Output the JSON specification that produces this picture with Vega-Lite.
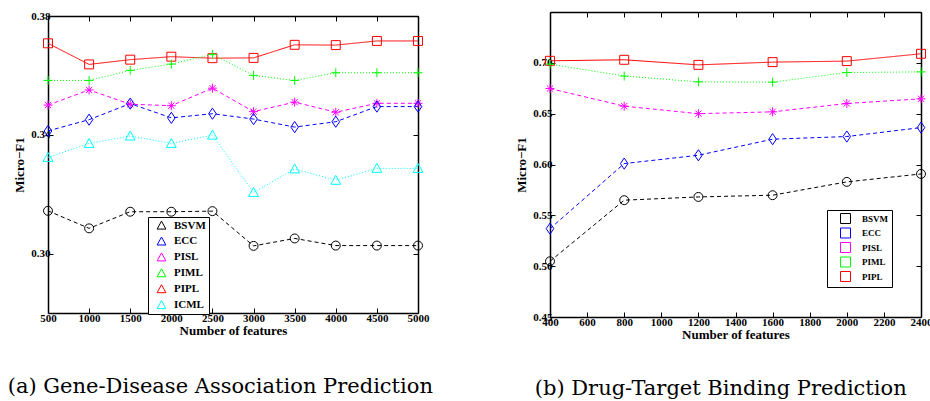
{
  "$schema": "https://vega.github.io/schema/vega-lite/v6.json",
  "padding": {"left": 7, "top": 10, "right": 0, "bottom": 0},
  "background": "white",
  "spacing": 132,
  "bounds": "flush",
  "center": true,
  "datasets": {
    "gene": [
      {"method": "PIPL", "n": 500, "f1": 0.3708}, {"method": "PIPL", "n": 1000, "f1": 0.3637}, {"method": "PIPL", "n": 1500, "f1": 0.3653}, {"method": "PIPL", "n": 2000, "f1": 0.3663}, {"method": "PIPL", "n": 2500, "f1": 0.3658}, {"method": "PIPL", "n": 3000, "f1": 0.3659}, {"method": "PIPL", "n": 3500, "f1": 0.3703}, {"method": "PIPL", "n": 4000, "f1": 0.3702}, {"method": "PIPL", "n": 4500, "f1": 0.3716}, {"method": "PIPL", "n": 5000, "f1": 0.3716},
      {"method": "PIML", "n": 500, "f1": 0.3583}, {"method": "PIML", "n": 1000, "f1": 0.3583}, {"method": "PIML", "n": 1500, "f1": 0.3617}, {"method": "PIML", "n": 2000, "f1": 0.3638}, {"method": "PIML", "n": 2500, "f1": 0.3671}, {"method": "PIML", "n": 3000, "f1": 0.3600}, {"method": "PIML", "n": 3500, "f1": 0.3583}, {"method": "PIML", "n": 4000, "f1": 0.3609}, {"method": "PIML", "n": 4500, "f1": 0.3609}, {"method": "PIML", "n": 5000, "f1": 0.3609},
      {"method": "PISL", "n": 500, "f1": 0.3500}, {"method": "PISL", "n": 1000, "f1": 0.3551}, {"method": "PISL", "n": 1500, "f1": 0.3503}, {"method": "PISL", "n": 2000, "f1": 0.3498}, {"method": "PISL", "n": 2500, "f1": 0.3557}, {"method": "PISL", "n": 3000, "f1": 0.3478}, {"method": "PISL", "n": 3500, "f1": 0.3510}, {"method": "PISL", "n": 4000, "f1": 0.3476}, {"method": "PISL", "n": 4500, "f1": 0.3506}, {"method": "PISL", "n": 5000, "f1": 0.3506},
      {"method": "ECC", "n": 500, "f1": 0.3413}, {"method": "ECC", "n": 1000, "f1": 0.3451}, {"method": "ECC", "n": 1500, "f1": 0.3505}, {"method": "ECC", "n": 2000, "f1": 0.3457}, {"method": "ECC", "n": 2500, "f1": 0.3471}, {"method": "ECC", "n": 3000, "f1": 0.3453}, {"method": "ECC", "n": 3500, "f1": 0.3426}, {"method": "ECC", "n": 4000, "f1": 0.3444}, {"method": "ECC", "n": 4500, "f1": 0.3495}, {"method": "ECC", "n": 5000, "f1": 0.3495},
      {"method": "ICML", "n": 500, "f1": 0.3324}, {"method": "ICML", "n": 1000, "f1": 0.3371}, {"method": "ICML", "n": 1500, "f1": 0.3396}, {"method": "ICML", "n": 2000, "f1": 0.3371}, {"method": "ICML", "n": 2500, "f1": 0.3399}, {"method": "ICML", "n": 3000, "f1": 0.3206}, {"method": "ICML", "n": 3500, "f1": 0.3285}, {"method": "ICML", "n": 4000, "f1": 0.3247}, {"method": "ICML", "n": 4500, "f1": 0.3287}, {"method": "ICML", "n": 5000, "f1": 0.3287},
      {"method": "BSVM", "n": 500, "f1": 0.3144}, {"method": "BSVM", "n": 1000, "f1": 0.3085}, {"method": "BSVM", "n": 1500, "f1": 0.3141}, {"method": "BSVM", "n": 2000, "f1": 0.3141}, {"method": "BSVM", "n": 2500, "f1": 0.3143}, {"method": "BSVM", "n": 3000, "f1": 0.3026}, {"method": "BSVM", "n": 3500, "f1": 0.3051}, {"method": "BSVM", "n": 4000, "f1": 0.3027}, {"method": "BSVM", "n": 4500, "f1": 0.3027}, {"method": "BSVM", "n": 5000, "f1": 0.3027}
    ],
    "drug": [
      {"method": "PIPL", "n": 400, "f1": 0.702}, {"method": "PIPL", "n": 800, "f1": 0.703}, {"method": "PIPL", "n": 1200, "f1": 0.698}, {"method": "PIPL", "n": 1600, "f1": 0.7007}, {"method": "PIPL", "n": 2000, "f1": 0.7017}, {"method": "PIPL", "n": 2400, "f1": 0.7089},
      {"method": "PIML", "n": 400, "f1": 0.6987}, {"method": "PIML", "n": 800, "f1": 0.687}, {"method": "PIML", "n": 1200, "f1": 0.6813}, {"method": "PIML", "n": 1600, "f1": 0.681}, {"method": "PIML", "n": 2000, "f1": 0.6905}, {"method": "PIML", "n": 2400, "f1": 0.6911},
      {"method": "PISL", "n": 400, "f1": 0.6747}, {"method": "PISL", "n": 800, "f1": 0.6574}, {"method": "PISL", "n": 1200, "f1": 0.650}, {"method": "PISL", "n": 1600, "f1": 0.6518}, {"method": "PISL", "n": 2000, "f1": 0.660}, {"method": "PISL", "n": 2400, "f1": 0.6646},
      {"method": "ECC", "n": 400, "f1": 0.5369}, {"method": "ECC", "n": 800, "f1": 0.6009}, {"method": "ECC", "n": 1200, "f1": 0.6091}, {"method": "ECC", "n": 1600, "f1": 0.6249}, {"method": "ECC", "n": 2000, "f1": 0.6275}, {"method": "ECC", "n": 2400, "f1": 0.6363},
      {"method": "BSVM", "n": 400, "f1": 0.5048}, {"method": "BSVM", "n": 800, "f1": 0.5649}, {"method": "BSVM", "n": 1200, "f1": 0.5681}, {"method": "BSVM", "n": 1600, "f1": 0.5698}, {"method": "BSVM", "n": 2000, "f1": 0.5829}, {"method": "BSVM", "n": 2400, "f1": 0.5907}
    ]
  },
  "config": {
    "view": {"stroke": null},
    "axis": {
      "labelFont": "Liberation Serif", "labelFontWeight": "bold", "labelFontSize": 11, "labelColor": "#000",
      "titleFont": "Liberation Serif", "titleFontWeight": "bold", "titleFontSize": 13, "titleColor": "#000",
      "domainColor": "#000", "domainWidth": 1.5, "tickColor": "#000", "tickSize": -5, "tickWidth": 1,
      "grid": false, "labelFlush": false, "labelOverlap": false, "labelPadding": 4
    },
    "legend": {"labelFont": "Liberation Serif", "labelFontWeight": "bold", "labelColor": "#000"}
  },
  "resolve": {
    "scale": {"color": "independent"},
    "legend": {"color": "independent"}
  },
  "hconcat": [
    {
      "width": 370, "height": 297,
      "title": {"text": "(a) Gene-Disease Association Prediction", "orient": "bottom", "anchor": "start", "frame": "bounds", "font": "DejaVu Serif", "fontSize": 21, "fontWeight": "normal", "color": "#000", "baseline": "alphabetic", "offset": 56, "dx": -6},
      "data": {"name": "gene"},
      "resolve": {"axis": {"x": "independent", "y": "independent"}},
      "layer": [
        {
          "mark": {"type": "line", "strokeWidth": 1},
          "encoding": {
            "x": {"field": "n", "type": "quantitative", "scale": {"domain": [500, 5000], "nice": false}, "axis": {"orient": "bottom", "values": [500, 1000, 1500, 2000, 2500, 3000, 3500, 4000, 4500, 5000], "format": "d", "title": "Number of features", "titlePadding": 1}},
            "y": {"field": "f1", "type": "quantitative", "scale": {"domain": [0.28, 0.38], "nice": false, "zero": false}, "axis": {"orient": "left", "values": [0.30, 0.34, 0.38], "format": ".2f", "title": "Micro−F1", "labelPadding": 3, "titlePadding": 4}},
            "detail": {"field": "method", "type": "nominal"},
            "color": {"condition": [{"test": "datum.method==='BSVM'", "value": "#000000"}, {"test": "datum.method==='ECC'", "value": "#0000ff"}, {"test": "datum.method==='PISL'", "value": "#ff00ff"}, {"test": "datum.method==='PIML'", "value": "#00ff00"}, {"test": "datum.method==='PIPL'", "value": "#ff0000"}], "value": "#00ffff"},
            "strokeDash": {"condition": [{"test": "datum.method==='BSVM' || datum.method==='ECC' || datum.method==='PISL'", "value": [4, 3]}, {"test": "datum.method==='PIPL'", "value": [1, 0]}], "value": [1, 2]}
          }
        },
        {
          "mark": {"type": "point", "filled": false, "size": 80, "strokeWidth": 1, "opacity": 1},
          "encoding": {
            "x": {"field": "n", "type": "quantitative", "scale": {"domain": [500, 5000], "nice": false}, "axis": {"orient": "top", "values": [500, 1000, 1500, 2000, 2500, 3000, 3500, 4000, 4500, 5000], "labels": false, "title": null}},
            "y": {"field": "f1", "type": "quantitative", "scale": {"domain": [0.28, 0.38], "nice": false, "zero": false}, "axis": {"orient": "right", "values": [0.30, 0.34, 0.38], "labels": false, "title": null}},
            "shape": {"condition": [{"test": "datum.method==='BSVM'", "value": "circle"}, {"test": "datum.method==='ECC'", "value": "M0,-1.25L0.85,0L0,1.25L-0.85,0Z"}, {"test": "datum.method==='PISL'", "value": "M-1,0H1M0,-1V1M-0.7,-0.7L0.7,0.7M-0.7,0.7L0.7,-0.7"}, {"test": "datum.method==='PIML'", "value": "M-1,0H1M0,-1V1"}, {"test": "datum.method==='PIPL'", "value": "square"}], "value": "M0,-1.1L1.1,0.9H-1.1Z"},
            "color": {"field": "method", "type": "nominal", "scale": {"domain": ["BSVM", "ECC", "PISL", "PIML", "PIPL", "ICML"], "range": ["#000000", "#0000ff", "#ff00ff", "#00ff00", "#ff0000", "#00ffff"]},
              "legend": {"title": null, "orient": "none", "legendX": 100, "legendY": 201, "strokeColor": "#000", "fillColor": "#fff", "padding": 3, "cornerRadius": 0, "labelFontSize": 11, "symbolSize": 64, "symbolOffset": 5, "labelOffset": 7, "rowPadding": 2.9, "symbolStrokeWidth": 1,
                "encode": {"legend": {"update": {"strokeWidth": {"value": 1.5}}}, "symbols": {"update": {"fill": {"value": "transparent"}, "strokeDash": {"value": [1, 0]}, "opacity": {"value": 1},
                  "shape": {"signal": "datum.value==='BSVM'?'M-2.25,0H-1.75M-1.4,0H-1M-0.5,0H0.5M1,0H1.4M1.75,0H2.25M-1,0A1,1 0 1,0 1,0A1,1 0 1,0 -1,0Z':datum.value==='ECC'?'M-2.25,0H-1.75M-1.4,0H-0.85M-0.4,0H0.4M0.85,0H1.4M1.75,0H2.25M0,-1.25L0.85,0L0,1.25L-0.85,0Z':datum.value==='PISL'?'M-2.25,0H-1.75M-1.4,0H-1M1,0H1.4M1.75,0H2.25M-1,0H1M0,-1V1M-0.7,-0.7L0.7,0.7M-0.7,0.7L0.7,-0.7':datum.value==='PIML'?'M-2.25,0H-2.1M-1.8,0H-1.65M-1.35,0H-1.2M1.2,0H1.35M1.65,0H1.8M2.1,0H2.25M-1,0H1M0,-1V1':datum.value==='PIPL'?'M-2.25,0H2.25M-1,-1H1V1H-1Z':'M-2.25,0H-2.1M-1.8,0H-1.65M-1.35,0H-1.2M1.2,0H1.35M1.65,0H1.8M2.1,0H2.25M0,-1.1L1.1,0.9H-1.1Z'"}}}}}}
          }
        }
      ]
    },
    {
      "width": 371, "height": 305,
      "title": {"text": "(b) Drug-Target Binding Prediction", "orient": "bottom", "anchor": "start", "frame": "bounds", "font": "DejaVu Serif", "fontSize": 21, "fontWeight": "normal", "color": "#000", "baseline": "alphabetic", "offset": 54, "dx": 19},
      "data": {"name": "drug"},
      "resolve": {"axis": {"x": "independent", "y": "independent"}},
      "layer": [
        {
          "mark": {"type": "line", "strokeWidth": 1},
          "encoding": {
            "x": {"field": "n", "type": "quantitative", "scale": {"domain": [400, 2400], "nice": false}, "axis": {"orient": "bottom", "values": [400, 600, 800, 1000, 1200, 1400, 1600, 1800, 2000, 2200, 2400], "format": "d", "title": "Number of features", "titlePadding": 1}},
            "y": {"field": "f1", "type": "quantitative", "scale": {"domain": [0.45, 0.75], "nice": false, "zero": false}, "axis": {"orient": "left", "values": [0.45, 0.50, 0.55, 0.60, 0.65, 0.70], "format": ".2f", "title": "Micro−F1", "labelPadding": 3, "titlePadding": 4}},
            "detail": {"field": "method", "type": "nominal"},
            "color": {"condition": [{"test": "datum.method==='BSVM'", "value": "#000000"}, {"test": "datum.method==='ECC'", "value": "#0000ff"}, {"test": "datum.method==='PISL'", "value": "#ff00ff"}, {"test": "datum.method==='PIML'", "value": "#00ff00"}], "value": "#ff0000"},
            "strokeDash": {"condition": [{"test": "datum.method==='BSVM' || datum.method==='ECC' || datum.method==='PISL'", "value": [4, 3]}, {"test": "datum.method==='PIML'", "value": [1, 2]}], "value": [1, 0]}
          }
        },
        {
          "mark": {"type": "point", "filled": false, "size": 80, "strokeWidth": 1, "opacity": 1},
          "encoding": {
            "x": {"field": "n", "type": "quantitative", "scale": {"domain": [400, 2400], "nice": false}, "axis": {"orient": "top", "values": [400, 600, 800, 1000, 1200, 1400, 1600, 1800, 2000, 2200, 2400], "labels": false, "title": null}},
            "y": {"field": "f1", "type": "quantitative", "scale": {"domain": [0.45, 0.75], "nice": false, "zero": false}, "axis": {"orient": "right", "values": [0.50, 0.55, 0.60, 0.65, 0.70], "labels": false, "title": null}},
            "shape": {"condition": [{"test": "datum.method==='BSVM'", "value": "circle"}, {"test": "datum.method==='ECC'", "value": "M0,-1.25L0.85,0L0,1.25L-0.85,0Z"}, {"test": "datum.method==='PISL'", "value": "M-1,0H1M0,-1V1M-0.7,-0.7L0.7,0.7M-0.7,0.7L0.7,-0.7"}, {"test": "datum.method==='PIML'", "value": "M-1,0H1M0,-1V1"}], "value": "square"},
            "color": {"field": "method", "type": "nominal", "scale": {"domain": ["BSVM", "ECC", "PISL", "PIML", "PIPL"], "range": ["#000000", "#0000ff", "#ff00ff", "#00ff00", "#ff0000"]},
              "legend": {"title": null, "orient": "none", "legendX": 277, "legendY": 198, "strokeColor": "#000", "fillColor": "#fff", "padding": 3, "cornerRadius": 0, "labelFontSize": 9, "symbolSize": 100, "symbolOffset": 10, "labelOffset": 11, "rowPadding": -0.5, "symbolStrokeWidth": 1,
                "encode": {"legend": {"update": {"strokeWidth": {"value": 1.5}}}, "symbols": {"update": {"fill": {"value": "transparent"}, "strokeDash": {"value": [1, 0]}, "opacity": {"value": 1},
                  "shape": {"signal": "datum.value==='BSVM'?'M-2.5,0H-1.8M-0.4,0H0.4M1.8,0H2.5M-1,0A1,1 0 1,0 1,0A1,1 0 1,0 -1,0Z':datum.value==='ECC'?'M-2.5,0H-1.8M-0.4,0H0.4M1.8,0H2.5M0,-1.25L0.85,0L0,1.25L-0.85,0Z':datum.value==='PISL'?'M-2.5,0H-1.8M1.8,0H2.5M-1,0H1M0,-1V1M-0.7,-0.7L0.7,0.7M-0.7,0.7L0.7,-0.7':datum.value==='PIML'?'M-2.6,0H-2.45M-2.1,0H-1.95M-1.6,0H-1.45M1.45,0H1.6M1.95,0H2.1M2.45,0H2.6M-1,0H1M0,-1V1':'M-2.6,0H2.6M-1,-1H1V1H-1Z'"}}}}}}
          }
        }
      ]
    }
  ]
}
